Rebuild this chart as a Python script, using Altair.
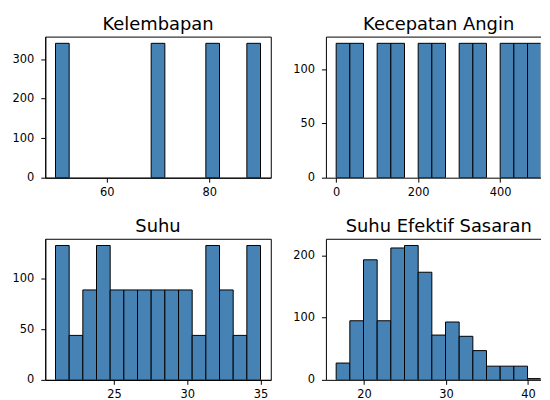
import altair as alt
import pandas as pd

titles = ["Kelembapan", "Kecepatan Angin", "Suhu", "Suhu Efektif Sasaran"]
kelembapan_counts = [340, 0, 0, 0, 0, 0, 0, 340, 0, 0, 0, 340, 0, 0, 340]
angin_counts = [124, 124, 0, 124, 124, 0, 124, 124, 0, 124, 124, 0, 124, 124, 124]
suhu_counts = [133, 44, 89, 133, 89, 89, 89, 89, 89, 89, 44, 133, 89, 44, 133]
efektif_counts = [27, 95, 193, 95, 212, 216, 173, 72, 93, 70, 47, 22, 22, 22, 2]
data_ranges = [(50, 90), (0, 500), (21, 35), (16.6, 41.6)]
x_ticks = [[60, 80], [0, 200, 400], [25, 30, 35], [20, 30, 40]]
y_ticks = [[0, 100, 200, 300], [0, 50, 100], [0, 50, 100], [0, 100, 200]]
all_counts = [kelembapan_counts, angin_counts, suhu_counts, efektif_counts]

FULL_W = 227
RIGHT_W = 216
H = 142


def panel(i):
    counts = all_counts[i]
    lo, hi = data_ranges[i]
    n = len(counts)
    w = (hi - lo) / n
    df = pd.DataFrame({
        "x0": [lo + k * w for k in range(n)],
        "x1": [lo + (k + 1) * w for k in range(n)],
        "c": counts,
        "z": [0] * n,
    })
    df = df[df.c > 0]
    m = 0.05 * (hi - lo)
    dmin, dmax = lo - m, hi + m
    right_col = i % 2 == 1
    W = FULL_W
    if right_col:
        W = RIGHT_W
        dmax = dmin + (dmax - dmin) * RIGHT_W / FULL_W
    ymax = max(counts) * 1.05
    xs = alt.Scale(domain=[dmin, dmax], nice=False, zero=False)
    ys = alt.Scale(domain=[0, ymax], nice=False, zero=True)
    yaxis = alt.Axis(values=y_ticks[i], title=None, grid=False, format="d")
    bars = alt.Chart(df).mark_bar(
        fill="#4682b4", stroke="black", strokeWidth=1, clip=True
    ).encode(
        x=alt.X("x0:Q", scale=xs,
                axis=alt.Axis(values=x_ticks[i], title=None, grid=False, format="d")),
        x2="x1",
        y=alt.Y("c:Q", scale=ys, axis=yaxis),
        y2="z",
    )
    if right_col:
        title = alt.TitleParams(titles[i], fontSize=18, font="DejaVu Sans",
                                fontWeight="normal", color="black", anchor="middle",
                                offset=3, dx=(FULL_W - RIGHT_W) / 2)
        top = alt.Chart(df).mark_bar(opacity=0).encode(
            x=alt.X("x0:Q", scale=xs,
                    axis=alt.Axis(orient="top", labels=False, ticks=False,
                                  title=None, grid=False, domain=True)),
            x2="x1",
            y=alt.Y("c:Q", scale=ys, axis=yaxis),
            y2="z",
        )
        return alt.layer(bars, top).resolve_axis(x="independent", y="shared").properties(
            width=W, height=H, title=title,
            view=alt.ViewBackground(stroke=None))
    title = alt.TitleParams(titles[i], fontSize=18, font="DejaVu Sans",
                            fontWeight="normal", color="black", anchor="middle", offset=3)
    return bars.properties(width=W, height=H, title=title,
                           view=alt.ViewBackground(stroke="black", strokeWidth=1))


chart = alt.concat(
    panel(0), panel(1), panel(2), panel(3), columns=2,
    spacing=alt.RowColnumber(row=18.5, column=20.5),
).properties(
    padding={"left": 3.5, "top": 5.5, "right": 0, "bottom": 0},
    background="white",
).configure_view(
    stroke="black", strokeWidth=1
).configure_axis(
    domainColor="black", domainWidth=1, tickColor="black", tickWidth=1,
    tickSize=4.5, labelColor="black", labelFont="DejaVu Sans",
    labelFontSize=11.5
).configure_axisX(
    labelPadding=4
).configure_axisY(
    labelPadding=7
)

chart.save("out.html", embed_options={"renderer": "svg", "actions": False})
